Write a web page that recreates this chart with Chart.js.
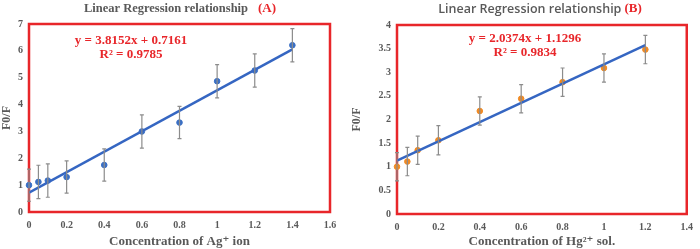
<!DOCTYPE html>
<html>
<head>
<meta charset="utf-8">
<script src="https://cdn.jsdelivr.net/npm/chart.js@4"></script>
<style>
  html, body { margin: 0; padding: 0; background: #fff; }
  #wrap { position: relative; width: 700px; height: 249px; }
  .box { position: absolute; top: 0; height: 249px; }
  #boxA { left: 0; width: 345px; }
  #boxB { left: 350px; width: 350px; }
</style>
</head>
<body>
<div id="wrap">
  <div class="box" id="boxA"><canvas id="chartA"></canvas></div>
  <div class="box" id="boxB"><canvas id="chartB"></canvas></div>
</div>
<script>
// panel A : Ag+
const concA = [0, 0.05, 0.1, 0.2, 0.4, 0.6, 0.8, 1.0, 1.2, 1.4];
const ratioA = [1.0, 1.12, 1.17, 1.3, 1.75, 3.0, 3.33, 4.87, 5.27, 6.21];
const errA = [0.6, 0.62, 0.62, 0.6, 0.6, 0.62, 0.6, 0.62, 0.62, 0.62];
const slopeA = 3.8152, interceptA = 0.7161;
const eqA = ['y = 3.8152x + 0.7161', 'R² = 0.9785'];
const xTicksA = [0, 0.2, 0.4, 0.6, 0.8, 1, 1.2, 1.4, 1.6];
const yTicksA = [0, 1, 2, 3, 4, 5, 6, 7];

// panel B : Hg2+
const concB = [0, 0.05, 0.1, 0.2, 0.4, 0.6, 0.8, 1.0, 1.2];
const ratioB = [1.0, 1.11, 1.35, 1.56, 2.18, 2.44, 2.79, 3.09, 3.48];
const errB = [0.3, 0.3, 0.3, 0.31, 0.3, 0.3, 0.3, 0.3, 0.3];
const slopeB = 2.0374, interceptB = 1.1296;
const eqB = ['y = 2.0374x + 1.1296', 'R² = 0.9834'];
const xTicksB = [0, 0.2, 0.4, 0.6, 0.8, 1, 1.2, 1.4];
const yTicksB = [0, 0.5, 1, 1.5, 2, 2.5, 3, 3.5, 4];

const gray = '#595959';
const red = '#e8262a';
const serif = '"Liberation Serif", "DejaVu Serif", serif';

// red frame, error bars, title, equation
const extras = {
  id: 'extras',
  beforeDatasetsDraw(chart) {
    const ctx = chart.ctx;
    const a = chart.chartArea;
    ctx.save();
    ctx.strokeStyle = red;
    ctx.lineWidth = 2.5;
    ctx.strokeRect(a.left, a.top, a.right - a.left, a.bottom - a.top);
    ctx.restore();
  },
  afterDatasetsDraw(chart) {
    const o = chart.options.plugins.extras;
    const ctx = chart.ctx;
    const xs = chart.scales.x, ys = chart.scales.y;
    ctx.save();
    ctx.strokeStyle = '#8c8c8c';
    ctx.lineWidth = 1.2;
    o.xv.forEach((x, i) => {
      const px = xs.getPixelForValue(x);
      const top = ys.getPixelForValue(o.yv[i] + o.err[i]);
      const bot = ys.getPixelForValue(o.yv[i] - o.err[i]);
      ctx.beginPath();
      ctx.moveTo(px, top); ctx.lineTo(px, bot);
      ctx.moveTo(px - 2, top); ctx.lineTo(px + 2, top);
      ctx.moveTo(px - 2, bot); ctx.lineTo(px + 2, bot);
      ctx.stroke();
    });
    ctx.restore();
  },
  afterDraw(chart) {
    const o = chart.options.plugins.extras;
    const ctx = chart.ctx;
    ctx.save();
    // title
    ctx.font = o.titleFont;
    ctx.textBaseline = 'middle';
    const w1 = ctx.measureText(o.title).width;
    ctx.font = o.tagFont;
    const w2 = ctx.measureText(o.tag).width;
    let x0 = o.titleX - (w1 + o.gap + w2) / 2;
    ctx.font = o.titleFont;
    ctx.fillStyle = gray;
    ctx.textAlign = 'left';
    ctx.fillText(o.title, x0, 9);
    ctx.font = o.tagFont;
    ctx.fillStyle = red;
    ctx.fillText(o.tag, x0 + w1 + o.gap, 9);

    // equation
    ctx.font = 'bold 13px ' + serif;
    ctx.textAlign = 'center';
    ctx.fillText(o.eq[0], o.eqX, o.eqY);
    ctx.fillText(o.eq[1], o.eqX, o.eqY + 14);
    ctx.restore();
  }
};

function makeChart(id, cfg) {
  const xEnd = cfg.xv[cfg.xv.length - 1];
  const fitLine = [
    { x: 0, y: cfg.b },
    { x: xEnd, y: cfg.m * xEnd + cfg.b }
  ];
  return new Chart(document.getElementById(id), {
    type: 'scatter',
    data: {
      datasets: [{
        data: cfg.xv.map((x, i) => ({ x: x, y: cfg.yv[i] })),
        backgroundColor: cfg.dot,
        borderColor: cfg.dot,
        pointRadius: 2.8,
        clip: false,
        order: 2
      }, {
        type: 'line',
        data: fitLine,
        borderColor: '#3566c2',
        borderWidth: 2.5,
        pointRadius: 0,
        fill: false,
        order: 1
      }]
    },
    options: {
      responsive: true,
      maintainAspectRatio: false,
      animation: false,
      layout: { padding: { top: cfg.padTop, right: cfg.padRight, left: 0, bottom: 0 } },
      plugins: {
        legend: { display: false },
        tooltip: { enabled: false },
        extras: cfg.extras
      },
      scales: {
        x: {
          type: 'linear',
          min: cfg.xt[0], max: cfg.xt[cfg.xt.length - 1],
          afterBuildTicks: s => { s.ticks = cfg.xt.map(v => ({ value: v })); },
          afterFit: s => { s.height = cfg.xH; },
          grid: { display: false, drawTicks: false },
          border: { display: false },
          ticks: { color: gray, font: { family: serif, size: 10, weight: 'bold' }, padding: 7,
                   callback: v => String(Math.round(v * 10) / 10) },
          title: { display: true, text: cfg.xTitle, color: gray,
                   font: { family: serif, size: 13, weight: 'bold' }, padding: { top: 2, bottom: 0 } }
        },
        y: {
          min: cfg.yt[0], max: cfg.yt[cfg.yt.length - 1],
          afterBuildTicks: s => { s.ticks = cfg.yt.map(v => ({ value: v })); },
          afterFit: s => { s.width = cfg.yW; },
          grid: { display: false, drawTicks: false },
          border: { display: false },
          ticks: { color: gray, font: { family: serif, size: 10, weight: 'bold' }, padding: 6,
                   callback: v => String(Math.round(v * 10) / 10) },
          title: { display: true, text: 'F0/F', color: gray,
                   font: { family: serif, size: 12, weight: 'bold' }, padding: { top: 0, bottom: 2 } }
        }
      }
    },
    plugins: [extras]
  });
}

makeChart('chartA', {
  xv: concA, yv: ratioA, m: slopeA, b: interceptA, dot: '#3a6fc4',
  xt: xTicksA, yt: yTicksA, xTitle: 'Concentration of Ag⁺ ion',
  padTop: 24, padRight: 15, xH: 37, yW: 29,
  extras: { xv: concA, yv: ratioA, err: errA, eq: eqA, eqX: 131, eqY: 41,
            title: 'Linear Regression relationship', tag: '(A)', titleX: 180, gap: 10,
            titleFont: 'bold 12.5px ' + serif, tagFont: 'bold 13px ' + serif }
});

makeChart('chartB', {
  xv: concB, yv: ratioB, m: slopeB, b: interceptB, dot: '#f08a24',
  xt: xTicksB, yt: yTicksB, xTitle: 'Concentration of Hg²⁺ sol.',
  padTop: 25, padRight: 7, xH: 35, yW: 47,
  extras: { xv: concB, yv: ratioB, err: errB, eq: eqB, eqX: 175, eqY: 39,
            title: 'Linear Regression relationship', tag: '(B)', titleX: 190, gap: 3,
            titleFont: '600 12.5px "Open Sans", sans-serif', tagFont: 'bold 13px ' + serif }
});
</script>
</body>
</html>
